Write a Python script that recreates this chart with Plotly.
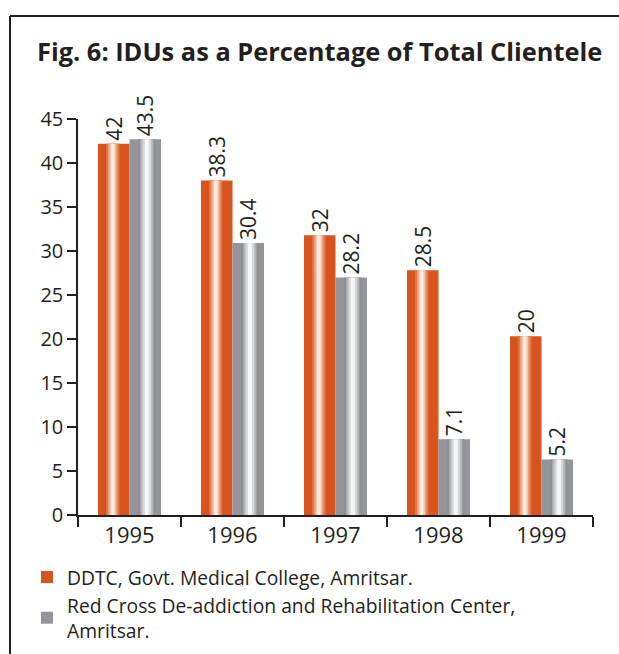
import plotly.graph_objects as go

years = ["1995", "1996", "1997", "1998", "1999"]
ddtc_labels = [42, 38.3, 32, 28.5, 20]
ddtc_heights = [42.2, 38.0, 31.8, 27.8, 20.3]
redcross_labels = [43.5, 30.4, 28.2, 7.1, 5.2]
redcross_heights = [42.7, 30.9, 27.0, 8.6, 6.3]
y_ticks = [0, 5, 10, 15, 20, 25, 30, 35, 40, 45]

name_ddtc = "DDTC, Govt. Medical College, Amritsar."
name_rc = "Red Cross De-addiction and Rehabilitation Center,<br>Amritsar."

ORANGE = "#d9531e"
GRAY = "#939598"
TXT = "#231f20"
FONT = "Open Sans"

W = 619
H = 654
ML, MR, MT, MB = 78, 26, 119, 139
PW = W - ML - MR
PH = H - MT - MB

BW = 0.306  # bar width in category units

fig = go.Figure()

def add_series(heights, labels, name, offset, base_color, layers):
    fig.add_trace(go.Bar(
        x=years, y=heights, name=name, offset=offset, width=BW,
        marker=dict(color=base_color, line=dict(width=0)),
        text=[str(v) for v in labels], textposition="outside", textangle=-90,
        constraintext="none",
        textfont=dict(family=FONT, size=21, color=TXT),
        cliponaxis=False, hoverinfo="skip",
    ))
    for frac_center, frac_w, col in layers:
        w = BW * frac_w
        fig.add_trace(go.Bar(
            x=years, y=heights, offset=offset + BW * frac_center - w / 2, width=w,
            marker=dict(color=col, line=dict(width=0)),
            showlegend=False, hoverinfo="skip",
        ))

orange_layers = [
    (0.47, 0.42, "#e27848"),
    (0.47, 0.30, "#ec9f7a"),
    (0.47, 0.20, "#f5c8b0"),
    (0.47, 0.10, "#fdeee4"),
]
gray_layers = [
    (0.55, 0.55, "#8e9093"),
    (0.55, 0.42, "#b3b4b7"),
    (0.55, 0.28, "#d6d7d8"),
    (0.55, 0.13, "#f6f6f6"),
]

add_series(ddtc_heights, ddtc_labels, name_ddtc, -BW, ORANGE, orange_layers)
add_series(redcross_heights, redcross_labels, name_rc, 0.0, GRAY, gray_layers)

# frame border (top and left edges; the rest runs off the page)
bx = (10 - ML) / PW
by = (H - MB - 16) / PH
fig.add_shape(type="line", xref="paper", yref="paper",
              x0=bx, x1=(W + 20 - ML) / PW, y0=by, y1=by,
              line=dict(color=TXT, width=2), layer="below")
fig.add_shape(type="line", xref="paper", yref="paper",
              x0=bx, x1=bx, y0=by, y1=(H - MB - (H + 20)) / PH,
              line=dict(color=TXT, width=2), layer="below")

fig.update_layout(
    width=W, height=H,
    margin=dict(l=ML, r=MR, t=MT, b=MB, autoexpand=False),
    paper_bgcolor="white", plot_bgcolor="white",
    barmode="overlay",
    title=dict(text="<b>Fig. 6: IDUs as a Percentage of Total Clientele</b>",
               font=dict(family=FONT, size=25.4, color=TXT),
               x=37 / W, xanchor="left", y=1 - 52 / H, yanchor="middle"),
    font=dict(family=FONT, color=TXT),
    showlegend=True,
    legend=dict(orientation="v", xref="container", yref="container",
                x=27 / W, xanchor="left",
                y=1 - 558 / H, yanchor="top",
                font=dict(family=FONT, size=19.3, color=TXT),
                bgcolor="rgba(0,0,0,0)", tracegroupgap=0, itemclick=False),
)

fig.update_xaxes(
    type="category", range=[-0.5, 4.5], showline=True, linecolor=TXT, linewidth=1.5,
    ticks="outside", tickson="boundaries", ticklen=10, tickcolor=TXT, tickwidth=1.5,
    tickfont=dict(family=FONT, size=22, color=TXT), showgrid=False, zeroline=False,
)
fig.update_yaxes(
    range=[0, 45], tickvals=y_ticks, showline=True, linecolor=TXT, linewidth=1.5,
    ticks="outside", ticklen=9, tickcolor=TXT, tickwidth=1.5,
    tickfont=dict(family=FONT, size=20, color=TXT), showgrid=False, zeroline=False,
)

fig.write_html("out.html", config={"displayModeBar": False})

# remove default page margins so the figure sits at the window origin
with open("out.html", "r", encoding="utf-8") as f:
    html = f.read()
html = html.replace("<head>", "<head><style>html,body{margin:0;padding:0;overflow:hidden;}</style>", 1)
with open("out.html", "w", encoding="utf-8") as f:
    f.write(html)
